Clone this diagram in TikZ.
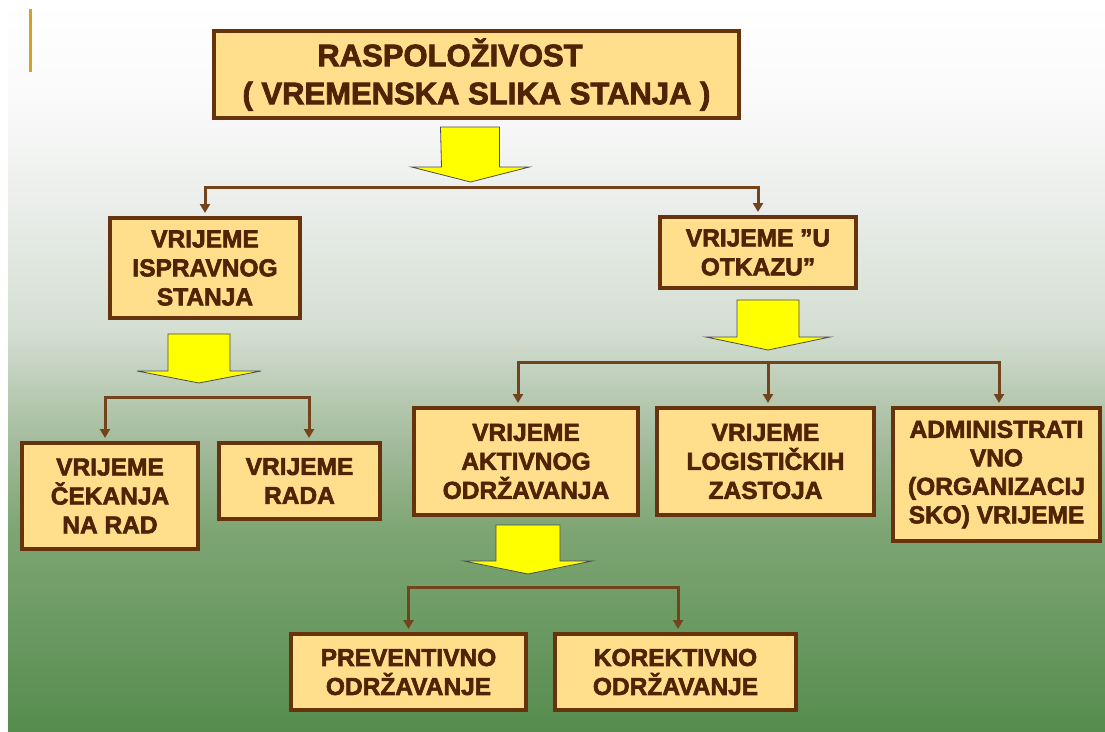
\documentclass[tikz,border=0pt]{standalone}
\usepackage{fontspec}
\setmainfont{Liberation Sans}[BoldFeatures={FakeBold=2.5}]
\usepackage{xcolor}
\usepackage{tikz}
\usetikzlibrary{arrows.meta, positioning}

\definecolor{boxfill}{RGB}{255,222,140}
\definecolor{boxline}{RGB}{102,51,13}
\definecolor{boxtext}{RGB}{78,36,4}
\definecolor{connline}{RGB}{115,68,28}
\definecolor{arrowyellow}{RGB}{255,255,0}
\definecolor{accentgold}{RGB}{214,160,40}

\pgfdeclareverticalshading{slidebg}{100bp}{rgb(0bp)=(0.337,0.549,0.306); rgb(25bp)=(0.337,0.549,0.306); rgb(31.2bp)=(0.408,0.596,0.376); rgb(38.7bp)=(0.49,0.647,0.451); rgb(44.2bp)=(0.627,0.725,0.596); rgb(52.4bp)=(0.831,0.871,0.824); rgb(61.3bp)=(0.922,0.933,0.922); rgb(68.2bp)=(0.98,0.98,0.98); rgb(75bp)=(1,1,1); rgb(100bp)=(1,1,1)}

\begin{document}
\begin{tikzpicture}[x=1pt, y=1pt, node distance=200pt,
    blok/.style={draw=boxline, fill=boxfill, line width=4pt, text=boxtext, align=center, inner sep=0pt, font=\bfseries\fontsize{24.5}{29}\selectfont},
    naslov/.style={blok, font=\bfseries\fontsize{31}{38}\selectfont},
    conn/.style={draw=connline, line width=3pt, shorten <=3pt, shorten >=3pt},
    bigarrow/.style={fill=arrowyellow, draw=black!70, line width=0.8pt},
    >={Triangle[length=9pt,width=10pt]}]

    \useasboundingbox (0,0) rectangle (1105,-731);

    % Slide background
    \shade[shading=slidebg] (8,0) rectangle (1105,-731);
    \draw[accentgold, line width=3pt] (30,-9) -- (30,-72);

    % Main node
    \node (raspolozivost) [naslov, minimum width=525pt, minimum height=87pt] at (476.5,-74.5) {RASPOLOŽIVOST\hspace*{53pt}\\( VREMENSKA SLIKA STANJA )};

    % Nodes below the main node
    \node (ispravnog) [blok, below of=raspolozivost, xshift=-271.5pt, yshift=6.5pt, minimum width=190pt, minimum height=100pt] {VRIJEME\\ISPRAVNOG\\STANJA};
    \node (otkazu) [blok, below of=raspolozivost, xshift=281.5pt, yshift=22pt, minimum width=196pt, minimum height=71pt] {VRIJEME ”U\\OTKAZU”};

    % Nodes below ispravnog stanja
    \node (cekanja) [blok, below of=ispravnog, xshift=-95pt, yshift=-28pt, minimum width=176pt, minimum height=106pt] {VRIJEME\\ČEKANJA\\NA RAD};
    \node (rada) [blok, below of=ispravnog, xshift=94.5pt, yshift=-13pt, minimum width=161pt, minimum height=76pt] {VRIJEME\\RADA};

    % Nodes below u otkazu
    \node (aktivnog) [blok, below of=otkazu, xshift=-232pt, yshift=-9pt, minimum width=224pt, minimum height=107pt] {VRIJEME\\AKTIVNOG\\ODRŽAVANJA};
    \node (logisticki) [blok, below of=otkazu, xshift=7.5pt, yshift=-9pt, minimum width=217pt, minimum height=107pt] {VRIJEME\\LOGISTIČKIH\\ZASTOJA};
    \node (administrativno) [blok, below of=otkazu, xshift=238.5pt, yshift=-22pt, minimum width=207pt, minimum height=133pt, font=\bfseries\fontsize{24.5}{28.5}\selectfont] {ADMINISTRATI\\VNO\\(ORGANIZACIJ\\SKO) VRIJEME};

    % Nodes below aktivnog odrzavanja
    \node (preventivno) [blok, below of=aktivnog, xshift=-117.5pt, yshift=-10.5pt, minimum width=235pt, minimum height=76pt] {PREVENTIVNO\\ODRŽAVANJE};
    \node (korektivno) [blok, below of=aktivnog, xshift=149.5pt, yshift=-10.5pt, minimum width=241pt, minimum height=76pt] {KOREKTIVNO\\ODRŽAVANJE};

    % Yellow block arrows
    \draw[bigarrow] ([xshift=-36pt,yshift=-7pt]raspolozivost.south) -- ++(59,0) -- ++(0,-40) -- ++(30,0) -- ++(-59,-15) -- ++(-59,15) -- ++(30,0) -- cycle;
    \draw[bigarrow] ([xshift=-37pt,yshift=-14pt]ispravnog.south) -- ++(62,0) -- ++(0,-37) -- ++(31,0) -- ++(-62,-12) -- ++(-62,12) -- ++(31,0) -- cycle;
    \draw[bigarrow] ([xshift=-21pt,yshift=-10pt]otkazu.south) -- ++(62,0) -- ++(0,-37) -- ++(31,0) -- ++(-62,-13) -- ++(-62,13) -- ++(31,0) -- cycle;
    \draw[bigarrow] ([xshift=-30pt,yshift=-8pt]aktivnog.south) -- ++(64,0) -- ++(0,-36) -- ++(32,0) -- ++(-64,-13) -- ++(-64,13) -- ++(32,0) -- cycle;

    % Connectors
    \draw[conn,<->] (ispravnog.north) -- ++(0,29) -| (otkazu.north);
    \draw[conn,<->] ([xshift=-5pt]cekanja.north) -- ++(0,44) -| ([xshift=9.5pt]rada.north);
    \draw[conn,<->] ([xshift=-8pt]aktivnog.north) -- ++(0,44) -| ([xshift=2.5pt]administrativno.north);
    \draw[conn,->,shorten <=0pt] ([xshift=2.5pt,yshift=44pt]logisticki.north) -- ([xshift=2.5pt]logisticki.north);
    \draw[conn,<->] (preventivno.north) -- ++(0,45) -| ([xshift=2.5pt]korektivno.north);

\end{tikzpicture}
\end{document}
